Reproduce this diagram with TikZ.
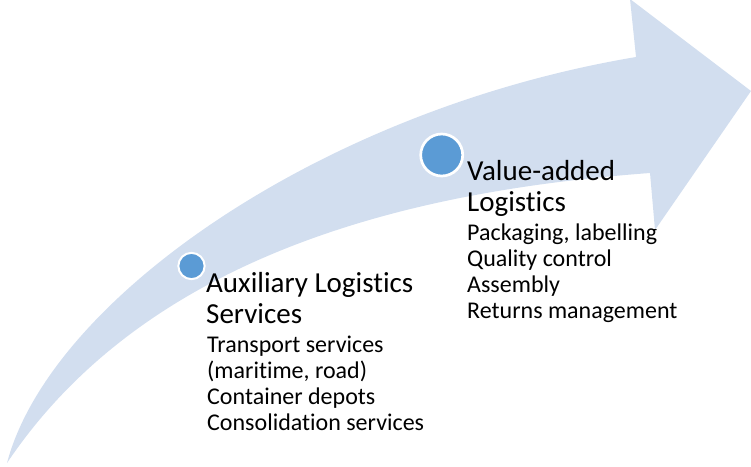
\documentclass[tikz,border=0pt]{standalone}
\usepackage{fontspec}
\setmainfont{Carlito}[Ligatures=NoCommon]
\definecolor{arrowfill}{HTML}{D2DEEF}
\definecolor{dotblue}{HTML}{5B9BD5}
\begin{document}
\begin{tikzpicture}[x=1pt,y=-1pt,
  dot/.style={circle,draw=white,fill=dotblue,inner sep=0pt},
  headline/.style={anchor=base west,inner sep=0pt,font=\fontsize{29}{31}\selectfont},
  itemline/.style={anchor=base west,inner sep=0pt,font=\fontsize{24}{26}\selectfont}]
\useasboundingbox (0,0) rectangle (751,466);
% curved, tapering arrow
\fill[arrowfill] (7,463) .. controls (50,300) and (320,110) .. (636,57)
  -- (630,-1) -- (751,91) -- (655,230) -- (650,173)
  .. controls (420,190) and (150,250) .. (7,463) -- cycle;
% milestones
\node[dot,minimum size=26.3pt,line width=2pt] (m1) at (191.5,266) {};
\node[dot,minimum size=42pt,line width=2.7pt] (m2) at (441.7,155) {};
% first stage
\node[headline] (a1) at (206,292) {Auxiliary Logistics};
\node[headline] (a2) at (206,323) {Services};
\node[itemline] (a3) at (207,352) {Transport services};
\node[itemline] (a4) at (207,378) {(maritime, road)};
\node[itemline] (a5) at (207,404) {Container depots};
\node[itemline] (a6) at (207,430) {Consolidation services};
% second stage
\node[headline] (b1) at (467,180) {Value-added};
\node[headline] (b2) at (467,211) {Logistics};
\node[itemline] (b3) at (467,240) {Packaging, labelling};
\node[itemline] (b4) at (467,266) {Quality control};
\node[itemline] (b5) at (467,292) {Assembly};
\node[itemline] (b6) at (467,318) {Returns management};
\end{tikzpicture}
\end{document}
